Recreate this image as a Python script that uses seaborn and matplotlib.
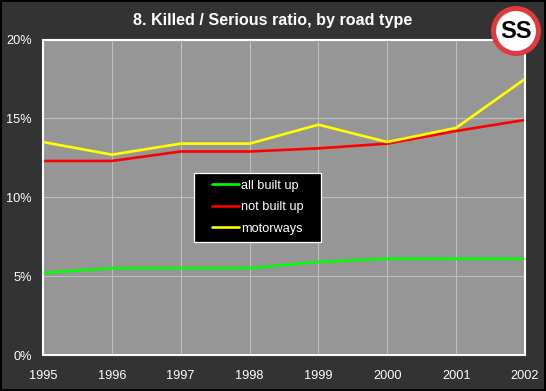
"""
8. Killed / Serious ratio, by road type
Output: out.png
"""
import matplotlib
matplotlib.use('Agg')
import matplotlib.pyplot as plt
from matplotlib.patches import Circle, Rectangle
import seaborn as sns
import pandas as pd

years = [1995, 1996, 1997, 1998, 1999, 2000, 2001, 2002]
all_built_up = [5.2, 5.5, 5.5, 5.5, 5.9, 6.1, 6.1, 6.1]
not_built_up = [12.3, 12.3, 12.9, 12.9, 13.1, 13.4, 14.2, 14.9]
motorways = [13.5, 12.7, 13.4, 13.4, 14.6, 13.5, 14.4, 17.5]
y_ticks = [0, 5, 10, 15, 20]
series_names = ['all built up', 'not built up', 'motorways']
series_colors = ['#00ff00', '#ff0000', '#ffff00']

sns.set_theme(style='white')
plt.rcParams['font.family'] = ['Liberation Sans', 'DejaVu Sans']

df = pd.DataFrame({'year': years, 'all built up': all_built_up,
                   'not built up': not_built_up, 'motorways': motorways})
long_df = df.melt(id_vars='year', var_name='road', value_name='ratio')

W, H = 546, 391
fig = plt.figure(figsize=(W / 100, H / 100), dpi=100, facecolor='#333333')
# black edge round the picture
fig.add_artist(Rectangle((1 / W, 1 / H), 1 - 2 / W, 1 - 2 / H, transform=fig.transFigure,
                         fill=False, edgecolor='black', linewidth=1.44))

ax = fig.add_axes([43 / W, (H - 355) / H, 482 / W, 315.5 / H], facecolor='#969696')
ax.grid(True, color='#bebebe', linewidth=0.8)
ax.set_axisbelow(True)

sns.lineplot(data=long_df, x='year', y='ratio', hue='road', hue_order=series_names,
             palette=series_colors, linewidth=1.9, ax=ax, legend=True)
ax.set_xlim(years[0], years[-1])
ax.set_ylim(y_ticks[0], y_ticks[-1])
ax.set_xticks(years)
ax.set_yticks(y_ticks)
ax.set_yticklabels([f'{v}%' for v in y_ticks])
ax.set_xlabel('')
ax.set_ylabel('')
ax.tick_params(axis='both', length=0, colors='white', labelsize=9.2)
ax.tick_params(axis='x', pad=11)
ax.tick_params(axis='y', pad=8)
for s in ax.spines.values():
    s.set_color('white')
    s.set_linewidth(1.5)

# legend box is wider than the legend padding allows, so draw it apart
fig.add_artist(Rectangle((193.5 / W, 1 - 242 / H), 127 / W, 69 / H, transform=fig.transFigure,
                         facecolor='black', edgecolor='white', linewidth=0.9, zorder=5))
leg = ax.legend(loc='center left', bbox_to_anchor=(0.35, 0.468), fontsize=9.2, frameon=False,
                labelcolor='white', handlelength=2.1, handletextpad=0.2, labelspacing=0.75,
                borderpad=0, borderaxespad=0)
leg.remove()
fig.add_artist(leg)
leg.set_zorder(6)

fig.text(273 / W, 1 - 20 / H, '8. Killed / Serious ratio, by road type', color='white',
         fontsize=11.6, fontweight='bold', ha='center', va='center')

# SS badge, top right
badge = fig.add_axes([(516 - 27) / W, 1 - (31 + 27) / H, 54 / W, 54 / H], zorder=7)
badge.set_xlim(-27, 27)
badge.set_ylim(-27, 27)
badge.axis('off')
badge.add_patch(Circle((0, 0), 22.5, facecolor='white', edgecolor='#e0393e', linewidth=3.6))
badge.text(0, -0.5, 'SS', color='black', fontsize=17, fontweight='bold', ha='center', va='center')

plt.savefig('out.png', dpi=100, facecolor=fig.get_facecolor())
plt.close()
